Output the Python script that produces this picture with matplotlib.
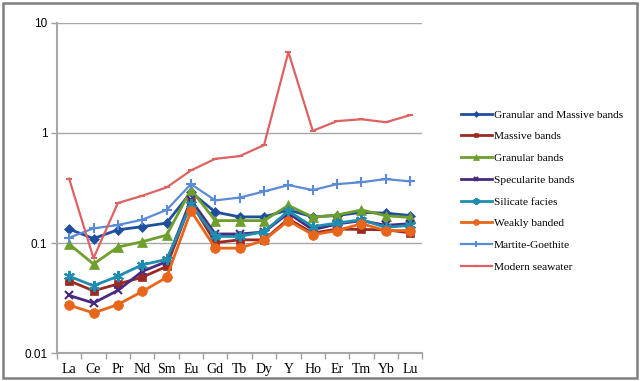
import matplotlib
matplotlib.use("Agg")
import matplotlib.pyplot as plt
from matplotlib.patches import Rectangle

elements = ["La", "Ce", "Pr", "Nd", "Sm", "Eu", "Gd", "Tb", "Dy", "Y", "Ho", "Er", "Tm", "Yb", "Lu"]

granular_massive = [0.134, 0.110, 0.132, 0.141, 0.152, 0.290, 0.191, 0.173, 0.173, 0.200, 0.173, 0.178, 0.190, 0.187, 0.178]
massive = [0.0455, 0.0369, 0.0425, 0.049, 0.0614, 0.235, 0.101, 0.107, 0.107, 0.166, 0.123, 0.134, 0.133, 0.132, 0.124]
granular = [0.098, 0.0645, 0.092, 0.103, 0.118, 0.305, 0.160, 0.160, 0.160, 0.220, 0.172, 0.180, 0.200, 0.177, 0.171]
specularite = [0.0335, 0.0286, 0.0372, 0.0553, 0.068, 0.247, 0.121, 0.121, 0.126, 0.187, 0.132, 0.149, 0.160, 0.145, 0.150]
silicate = [0.050, 0.041, 0.050, 0.0636, 0.071, 0.225, 0.115, 0.115, 0.127, 0.195, 0.141, 0.152, 0.163, 0.139, 0.145]
weakly = [0.0274, 0.0232, 0.0277, 0.0364, 0.0488, 0.196, 0.090, 0.090, 0.106, 0.160, 0.119, 0.130, 0.150, 0.130, 0.130]
martite = [0.112, 0.136, 0.146, 0.163, 0.200, 0.343, 0.244, 0.259, 0.294, 0.336, 0.303, 0.343, 0.357, 0.381, 0.363]
seawater = [0.384, 0.073, 0.231, 0.269, 0.320, 0.457, 0.582, 0.616, 0.775, 5.41, 1.045, 1.28, 1.33, 1.25, 1.45]

series = [
    ("Granular and Massive bands", granular_massive, "#1f4f9c", "D", 5, 2.0),
    ("Massive bands", massive, "#9c2a22", "s", 6, 2.0),
    ("Granular bands", granular, "#6e9f2c", "^", 7, 2.0),
    ("Specularite bands", specularite, "#4a2a7e", "x", 6, 2.0),
    ("Silicate facies", silicate, "#1f8db0", (6, 2, 0), 8, 2.0),
    ("Weakly banded", weakly, "#e8661c", "o", 7, 2.0),
    ("Martite-Goethite", martite, "#5b8bd6", "+", 7, 1.6),
    ("Modern seawater", seawater, "#de6262", "_", 5, 1.6),
]

fig = plt.figure(figsize=(6.4, 3.81), dpi=100)
ax = fig.add_axes([0.089, 0.0727, 0.571, 0.8677])
x = list(range(len(elements)))
handles = []
for name, vals, col, mk, ms, lw in series:
    h, = ax.plot(x, vals, color=col, marker=mk, markersize=ms, linewidth=lw,
                 markeredgewidth=1.5 if mk in ("x", "+", "_") or isinstance(mk, tuple) else 0.5,
                 markeredgecolor=col, label=name, zorder=3)
    handles.append(h)

ax.set_yscale("log")
ax.set_ylim(0.01, 10)
ax.set_xlim(-0.5, len(elements) - 0.5)
ax.set_yticks([0.01, 0.1, 1, 10])
ax.set_yticklabels(["0.01", "0.1", "1", "10"], fontfamily="Liberation Sans", fontsize=8.5)
ax.yaxis.set_minor_locator(matplotlib.ticker.NullLocator())
ax.set_xticks(x)
ax.set_xticklabels(elements, fontfamily="Liberation Serif", fontsize=10)
ax.set_xticks([i - 0.5 for i in range(len(elements) + 1)], minor=True)
ax.tick_params(axis="x", which="major", length=0, pad=7)
ax.tick_params(axis="x", which="minor", length=4, color="#a0a0a0", width=1)
ax.tick_params(axis="y", which="major", length=4, color="#a0a0a0", width=1, pad=3)
ax.grid(axis="y", which="major", color="#a8a8a8", linewidth=1)
ax.set_axisbelow(True)
for s in ["top", "right"]:
    ax.spines[s].set_visible(False)
for s in ["left", "bottom"]:
    ax.spines[s].set_color("#a8a8a8")
    ax.spines[s].set_linewidth(1.5)

leg = fig.legend(handles=handles, loc="upper left", bbox_to_anchor=(0.720, 0.712),
                 frameon=False, prop={"family": "Liberation Serif", "size": 8.2},
                 handlelength=2.7, handletextpad=0.2, labelspacing=1.03, markerscale=0.6,
                 borderpad=0, borderaxespad=0)

fig.patches.append(Rectangle((0.005, 0.008), 0.991, 0.985, transform=fig.transFigure,
                             fill=False, edgecolor="#808080", linewidth=1.8))

fig.savefig("out.png", dpi=100)
